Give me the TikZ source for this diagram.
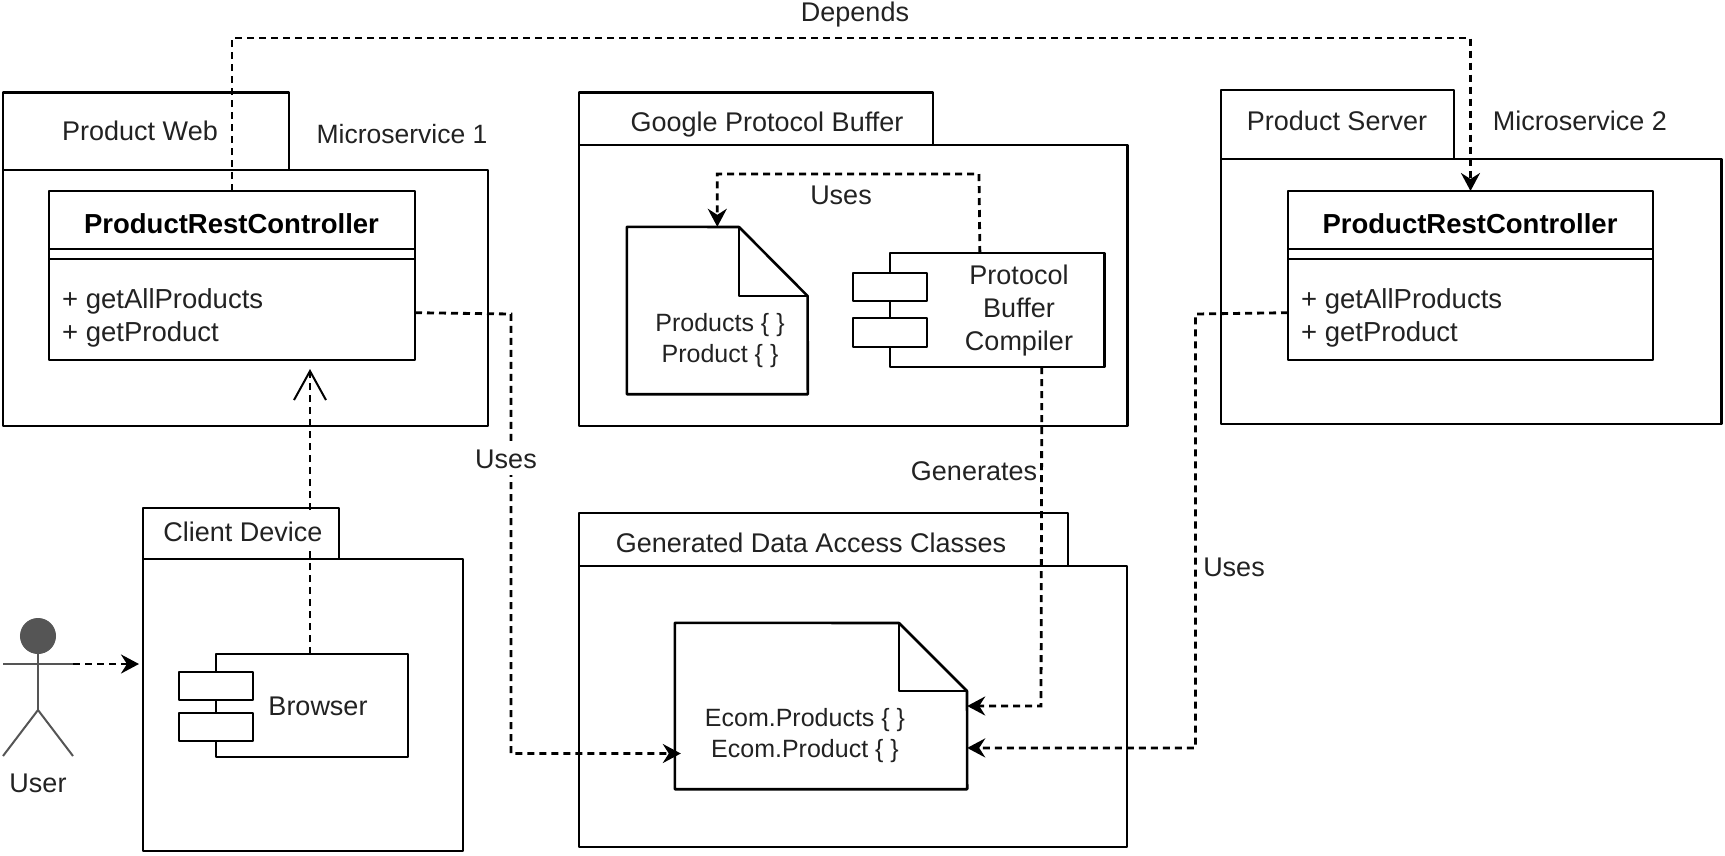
\documentclass[tikz,border=0pt]{standalone}
\usepackage{fontspec}
\setmainfont{Liberation Sans}
\usetikzlibrary{arrows.meta}
\definecolor{ink}{HTML}{222222}
\definecolor{actorgray}{HTML}{555555}
\tikzset{
  box/.style={draw=black,line width=2.6pt,fill=white,inner sep=0pt,outer sep=0pt,line join=round},
  txt/.style={text=ink,inner sep=0pt,align=center,font=\fontsize{27}{33}\selectfont},
  smalltxt/.style={txt,font=\fontsize{25}{31}\selectfont},
  boldtxt/.style={text=black,inner sep=0pt,font=\fontsize{27.5}{33}\selectfont\bfseries},
  opstxt/.style={text=ink,inner sep=0pt,align=left,font=\fontsize{27.5}{32.5}\selectfont},
  maskedtxt/.style={txt,fill=white,inner xsep=2pt,inner ysep=7pt},
  dep/.style={draw=black,line width=2.8pt,dash pattern=on 7pt off 5pt,
    -{Stealth[length=18pt,width=19pt,inset=6pt]}},
  openDep/.style={draw=black,line width=2.8pt,dash pattern=on 7pt off 5pt,
    -{Straight Barb[length=29pt,width=32pt,line width=2pt]}},
  actor/.style={draw=actorgray,line width=2pt}
}
\begin{document}
\begin{tikzpicture}[x=1pt,y=-1pt]
  \useasboundingbox (0,0) rectangle (1725,855);
  % packages
  \node (webBody) [box,minimum width=485pt,minimum height=256pt] at (245.5,298) {};
  \node (webTab) [box,minimum width=286pt,minimum height=77.3pt] at (146,131.3) {};
  \node (googleBody) [box,minimum width=548.5pt,minimum height=281pt] at (853.25,285.5) {};
  \node (googleTab) [box,minimum width=354pt,minimum height=52.3pt] at (756,118.85) {};
  \node (servBody) [box,minimum width=500.5pt,minimum height=265pt] at (1471.25,291.5) {};
  \node (servTab) [box,minimum width=233pt,minimum height=69pt] at (1337.5,124.5) {};
  \node (clientBody) [box,minimum width=320pt,minimum height=292pt] at (303,705) {};
  \node (clientTab) [box,minimum width=196pt,minimum height=51pt] at (241,533.5) {};
  \node (genBody) [box,minimum width=548pt,minimum height=281pt] at (853,706.5) {};
  \node (genTab) [box,minimum width=489pt,minimum height=53pt] at (823.5,539.5) {};
  % classes
  \node (webHead) [box,minimum width=366pt,minimum height=58pt] at (232,220) {};
  \node (webGap) [box,minimum width=366pt,minimum height=10pt] at (232,254) {};
  \node (webOps) [box,minimum width=366pt,minimum height=101pt] at (232,309.5) {};
  \node (servHead) [box,minimum width=365pt,minimum height=58pt] at (1470.5,220) {};
  \node (servGap) [box,minimum width=365pt,minimum height=10pt] at (1470.5,254) {};
  \node (servOps) [box,minimum width=365pt,minimum height=101pt] at (1470.5,309.5) {};
  % components
  \node (compiler) [box,minimum width=214.6pt,minimum height=114pt] at (997.3,310) {};
  \node (compPortA) [box,minimum width=74pt,minimum height=28pt] at (890,287) {};
  \node (compPortB) [box,minimum width=74pt,minimum height=29pt] at (890,332.5) {};
  \node (browser) [box,minimum width=192pt,minimum height=103pt] at (312,705.5) {};
  \node (browserPortA) [box,minimum width=74pt,minimum height=28pt] at (216,686) {};
  \node (browserPortB) [box,minimum width=74pt,minimum height=28pt] at (216,727) {};
  % documents
  \node (docProto) [minimum width=180.6pt,minimum height=167pt,inner sep=0pt] at (717.3,310.5) {};
  \draw [line width=2.6pt,line join=round] (docProto.north west) -- (739,227) -- (807.6,296)
    -- (docProto.south east) -- (docProto.south west) -- cycle;
  \draw [line width=2.6pt,line join=round] (739,227) -- (739,296) -- (807.6,296);
  \node (docEcom) [minimum width=292pt,minimum height=166pt,inner sep=0pt] at (821,706) {};
  \draw [line width=2.6pt,line join=round] (docEcom.north west) -- (899,623) -- (967,691)
    -- (docEcom.south east) -- (docEcom.south west) -- cycle;
  \draw [line width=2.6pt,line join=round] (899,623) -- (899,691) -- (967,691);
  % user
  \node (userHead) [circle,draw=actorgray,fill=actorgray,line width=1pt,minimum size=35pt,inner sep=0pt] at (38,636) {};
  \coordinate (userHip) at (38,710);
  \coordinate (userHandL) at (3,664);
  \coordinate (userHandR) at (73,664);
  \coordinate (userFootL) at (3,756);
  \coordinate (userFootR) at (73,756);
  \draw [actor] (userHead.south) -- (userHip);
  \draw [actor] (userHandL) -- (userHandR);
  \draw [actor] (userFootL) -- (userHip) -- (userFootR);
  % connectors
  \coordinate (depTurn) at (232,38);
  \coordinate (protoTurn) at (979,174);
  \coordinate (webOutTurn) at (511,314);
  \coordinate (servOutTurn) at (1195.5,314);
  \coordinate (genTurn) at (1041,706);
  \coordinate (webIn) at (310,369);
  \coordinate (clientIn) at (139,664);
  \draw [dep] (webHead.north) -- (depTurn) -| (servHead.north);
  \draw [dep] (compiler.107.5) -- (protoTurn) -| (docProto.north);
  \draw [dep] (compiler.-52.3) -- (genTurn) -- (docEcom.east);
  \draw [dep,shorten >=-6pt] (webOps.-1.4) -- (webOutTurn) |- (docEcom.198.9);
  \draw [dep] (servOps.181.4) -- (servOutTurn) |- (docEcom.-16.05);
  \draw [openDep] (webIn |- browser.north) -- (webIn);
  \draw [dep] (userHandR) -- (clientIn);
  % labels
  \node (webName) [txt] at (140,131) {Product Web};
  \node (ms1Label) [txt,font=\fontsize{26.5}{33}\selectfont] at (402,134) {Microservice 1};
  \node (googleName) [txt] at (767,125) {Google Protocol Buffer};
  \node (servName) [txt] at (1337,121) {Product Server};
  \node (ms2Label) [txt] at (1580,121) {Microservice 2};
  \node (clientName) [maskedtxt] at (243,532) {Client Device};
  \node (genName) [txt] at (811,543) {Generated Data Access Classes};
  \node (webTitle) [boldtxt] at (231.5,224) {ProductRestController};
  \node (servTitle) [boldtxt] at (1470,224) {ProductRestController};
  \node (webMethods) [opstxt,anchor=west] at (62,318) {+ getAllProducts\\+ getProduct};
  \node (servMethods) [opstxt,anchor=west] at (1301,318) {+ getAllProducts\\+ getProduct};
  \node (compilerName) [txt] at (1019,311) {Protocol\\Buffer\\Compiler};
  \node (browserName) [txt] at (318,706) {Browser};
  \node (docProtoText) [smalltxt] at (720,341) {Products \{ \}\\Product \{ \}};
  \node (docEcomText) [smalltxt] at (805,736) {Ecom.Products \{ \}\\Ecom.Product \{ \}};
  \node (userName) [txt] at (38,783) {User};
  \node (dependsLabel) [txt] at (855,15) {Depends};
  \node (usesProto) [txt] at (841,195) {Uses};
  \node (usesWeb) [maskedtxt] at (506,459) {Uses};
  \node (usesServ) [txt] at (1234,567) {Uses};
  \node (generatesLabel) [maskedtxt] at (974,471) {Generates};
\end{tikzpicture}
\end{document}
